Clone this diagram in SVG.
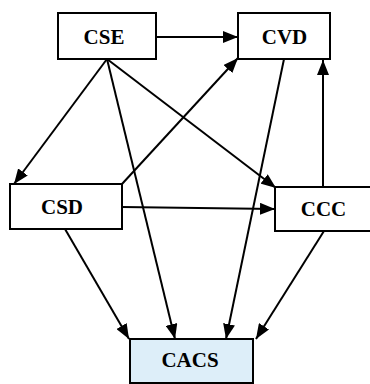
<svg xmlns="http://www.w3.org/2000/svg" width="370" height="384" viewBox="0 0 370 384">
<style>
.box{fill:#ffffff;stroke:#000000;stroke-width:2}
.target{fill:#ddeef9}
.lbl{font-family:"Liberation Serif","Times New Roman",serif;font-weight:bold;font-size:21px;text-anchor:middle;fill:#000000}
.edge{stroke:#000000;stroke-width:2;fill:none;marker-end:url(#ah)}
</style>
<defs>
<marker id="ah" markerUnits="userSpaceOnUse" markerWidth="15" markerHeight="12" viewBox="0 0 15 12" refX="15" refY="6" orient="auto">
<path d="M0,0 L15,6 L0,12 Z" fill="#000000"/>
</marker>
</defs>
<rect width="370" height="384" fill="#ffffff"/>
<g id="connectors">
<line class="edge" x1="156" y1="37" x2="238" y2="37"/>
<line class="edge" x1="107" y1="59" x2="14" y2="184"/>
<line class="edge" x1="107" y1="59" x2="276" y2="188"/>
<line class="edge" x1="107" y1="59" x2="175" y2="339"/>
<line class="edge" x1="122" y1="184" x2="238" y2="58"/>
<line class="edge" x1="284" y1="59" x2="226" y2="339"/>
<line class="edge" x1="323" y1="187" x2="323" y2="60"/>
<line class="edge" x1="122" y1="207" x2="275" y2="209"/>
<line class="edge" x1="65" y1="229" x2="129" y2="339"/>
<line class="edge" x1="324" y1="231" x2="256" y2="339"/>
</g>
<g id="CSE"><rect class="box" x="58" y="13" width="98" height="46"/><text class="lbl" x="104" y="44">CSE</text></g>
<g id="CVD"><rect class="box" x="238" y="13" width="92" height="46"/><text class="lbl" x="284.5" y="44">CVD</text></g>
<g id="CSD"><rect class="box" x="10" y="184" width="112" height="45"/><text class="lbl" x="62" y="214">CSD</text></g>
<g id="CCC"><rect class="box" x="275" y="187" width="96" height="44"/><text class="lbl" x="323.5" y="216">CCC</text></g>
<g id="CACS"><rect class="box target" x="130" y="339" width="123" height="44"/><text class="lbl" x="190" y="367">CACS</text></g>
</svg>
